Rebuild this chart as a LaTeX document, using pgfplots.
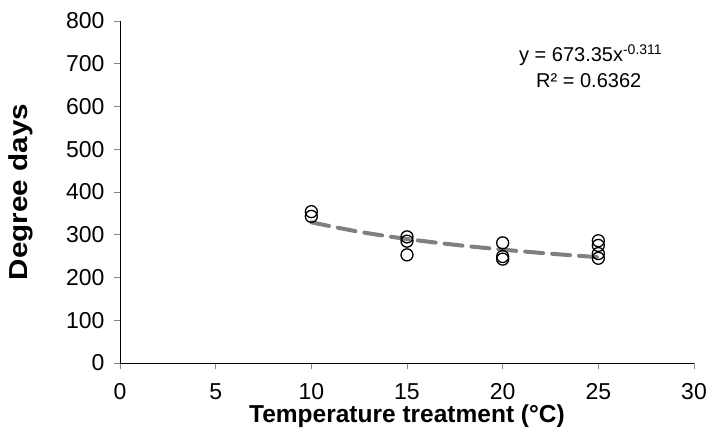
\documentclass[border=0pt]{standalone}
\usepackage{fontspec}
\setmainfont{Liberation Sans}
\usepackage{graphicx}
\usepackage{pgfplots}
\pgfplotsset{compat=1.18}
\definecolor{trend}{RGB}{128,128,128}
\definecolor{tickgray}{RGB}{134,134,134}
\begin{document}
\begin{tikzpicture}[x=1bp,y=1bp]
\useasboundingbox (-120bp,-67bp) rectangle (593bp,363bp);
\begin{axis}[
  scale only axis,
  width=574bp, height=342bp,
  xmin=0, xmax=30, ymin=0, ymax=800,
  xtick={0,5,...,30}, ytick={0,100,...,800},
  axis x line=bottom, axis y line=left,
  axis line style={-, line width=0.8pt, black},
  tick align=outside,
  major tick length=6bp,
  tick style={tickgray, line width=0.8pt},
  /pgf/number format/assume math mode=true,
  xticklabel={\fontsize{23bp}{25bp}\selectfont\pgfmathprintnumber{\tick}},
  yticklabel={\fontsize{23bp}{25bp}\selectfont\pgfmathprintnumber{\tick}},
  xticklabel style={yshift=-11bp},
  yticklabel style={xshift=-6bp},
  xlabel={\textbf{Temperature treatment (°C)}},
  ylabel={\scalebox{1.14}[1]{\textbf{Degree days}}},
  xlabel style={font=\fontsize{24.5bp}{26bp}\selectfont, at={(axis description cs:0.5,0)}, anchor=center, yshift=-53bp},
  ylabel style={font=\fontsize{26bp}{28bp}\selectfont, at={(axis description cs:0,0.5)}, anchor=center, rotate=0, yshift=99bp},
  clip=false,
]
\addplot[trend, line width=4bp, dash pattern=on 18bp off 9bp, line cap=round, smooth] coordinates {
  (10,329.1) (12.5,307.0) (15,290.1) (17.5,276.5) (20,265.2) (22.5,255.7) (25,247.5)
};
\addplot[only marks, mark=o, mark size=6bp, mark options={black, line width=1.3bp}] coordinates {
  (10,354) (10,343)
  (15,295) (15,285) (15,253)
  (20,281) (20,249) (20,243)
  (25,286) (25,275) (25,256) (25,245)
};
\node[font=\fontsize{20bp}{22bp}\selectfont, anchor=center] at (axis cs:24.6,720) {y = 673.35x\textsuperscript{-0.311}};
\node[font=\fontsize{20bp}{22bp}\selectfont, anchor=center] at (axis cs:24.5,660) {R² = 0.6362};
\end{axis}
\end{tikzpicture}
\end{document}
